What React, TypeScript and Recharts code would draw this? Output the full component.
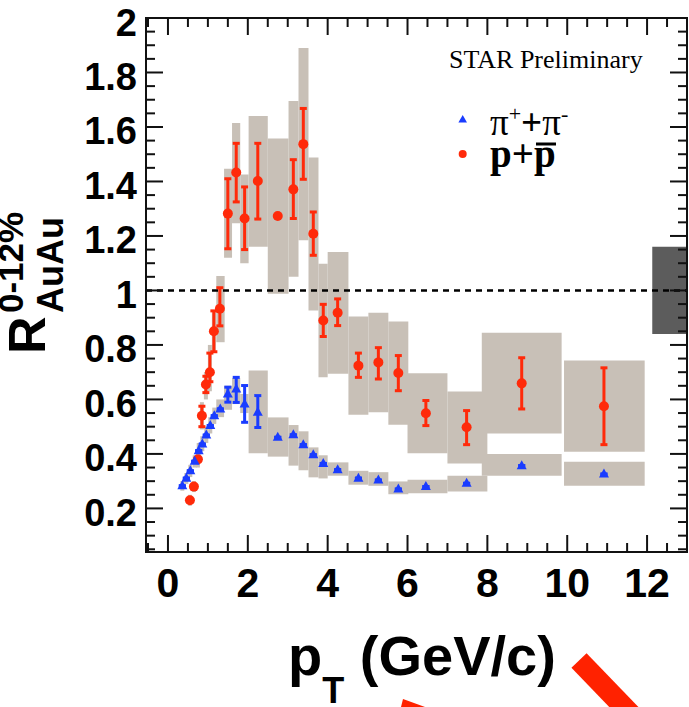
import React from 'react';
import { ComposedChart, XAxis, YAxis, Scatter, ErrorBar, ReferenceArea, ReferenceLine } from 'recharts';

// ---------------- data ----------------
const xTicks = [-0.5, 0, 0.5, 1, 1.5, 2, 2.5, 3, 3.5, 4, 4.5, 5, 5.5, 6, 6.5, 7, 7.5, 8, 8.5, 9, 9.5, 10, 10.5, 11, 11.5, 12, 12.5, 13];
const yTicks = [0.05, 0.1, 0.15, 0.2, 0.25, 0.3, 0.35, 0.4, 0.45, 0.5, 0.55, 0.6, 0.65, 0.7, 0.75, 0.8, 0.85, 0.9, 0.95, 1,
  1.05, 1.1, 1.15, 1.2, 1.25, 1.3, 1.35, 1.4, 1.45, 1.5, 1.55, 1.6, 1.65, 1.7, 1.75, 1.8, 1.85, 1.9, 1.95, 2];

// protons (p + pbar)
const pPt = [0.55, 0.65, 0.75, 0.85, 0.95, 1.05, 1.15, 1.3, 1.5, 1.71, 1.92, 2.25, 2.75, 3.14, 3.39, 3.64, 3.89, 4.25, 4.77, 5.27, 5.77, 6.46, 7.48, 8.86, 10.92];
const pR = [0.23, 0.28, 0.38, 0.54, 0.655, 0.70, 0.85, 0.933, 1.282, 1.433, 1.264, 1.402, 1.273, 1.371, 1.537, 1.208, 0.89, 0.918, 0.724, 0.736, 0.697, 0.549, 0.498, 0.659, 0.575];
const pErrLo = [0.23, 0.28, 0.38, 0.50, 0.625, 0.665, 0.775, 0.87, 1.153, 1.325, 1.15, 1.262, 1.273, 1.264, 1.408, 1.129, 0.831, 0.871, 0.681, 0.675, 0.632, 0.504, 0.434, 0.565, 0.434];
const pErrHi = [0.23, 0.28, 0.38, 0.575, 0.685, 0.77, 0.925, 1.01, 1.41, 1.54, 1.38, 1.54, 1.273, 1.48, 1.668, 1.288, 0.949, 0.969, 0.77, 0.79, 0.761, 0.596, 0.559, 0.753, 0.716];
const pBoxX1 = [0.50, 0.60, 0.70, 0.80, 0.90, 1.00, 1.10, 1.21, 1.405, 1.605, 1.81, 2.02, 2.50, 3.02, 3.27, 3.52, 3.77, 4.00, 4.52, 5.02, 5.52, 6.00, 7.00, 7.86, 9.92];
const pBoxX2 = [0.60, 0.70, 0.80, 0.90, 1.00, 1.10, 1.20, 1.42, 1.605, 1.81, 2.02, 2.50, 3.02, 3.27, 3.52, 3.77, 4.00, 4.52, 5.02, 5.52, 6.02, 7.00, 8.00, 9.86, 11.94];
const pBoxLo = [0.21, 0.26, 0.35, 0.49, 0.60, 0.63, 0.78, 0.81, 1.12, 1.247, 1.10, 1.16, 0.988, 1.05, 1.184, 0.926, 0.681, 0.694, 0.544, 0.553, 0.507, 0.402, 0.365, 0.475, 0.408];
const pBoxHi = [0.25, 0.30, 0.41, 0.59, 0.70, 0.80, 0.92, 1.053, 1.447, 1.615, 1.426, 1.64, 1.558, 1.695, 1.89, 1.488, 1.098, 1.141, 0.904, 0.918, 0.886, 0.696, 0.629, 0.845, 0.743];

// pions (pi+ + pi-)
const piPt = [0.36, 0.46, 0.56, 0.67, 0.77, 0.86, 0.96, 1.06, 1.16, 1.31, 1.5, 1.71, 1.92, 2.25, 2.75, 3.14, 3.39, 3.64, 3.89, 4.25, 4.77, 5.27, 5.77, 6.46, 7.48, 8.86, 10.92];
const piR = [0.283, 0.311, 0.338, 0.373, 0.412, 0.436, 0.469, 0.504, 0.54, 0.565, 0.62, 0.638, 0.583, 0.553, 0.461, 0.47, 0.434, 0.397, 0.365, 0.342, 0.311, 0.304, 0.271, 0.28, 0.292, 0.357, 0.326];
const piErrLo = [0.283, 0.311, 0.338, 0.373, 0.412, 0.436, 0.469, 0.504, 0.54, 0.565, 0.59, 0.589, 0.516, 0.497, 0.461, 0.47, 0.434, 0.397, 0.365, 0.342, 0.311, 0.304, 0.271, 0.28, 0.292, 0.357, 0.326];
const piErrHi = [0.283, 0.311, 0.338, 0.373, 0.412, 0.436, 0.469, 0.504, 0.54, 0.565, 0.645, 0.681, 0.651, 0.614, 0.461, 0.47, 0.434, 0.397, 0.365, 0.342, 0.311, 0.304, 0.271, 0.28, 0.292, 0.357, 0.326];
const piBoxX1 = [0.31, 0.41, 0.51, 0.62, 0.72, 0.81, 0.91, 1.01, 1.11, 1.21, 1.405, 1.605, 1.81, 2.02, 2.50, 3.02, 3.27, 3.52, 3.77, 4.00, 4.52, 5.02, 5.52, 6.00, 7.00, 7.86, 9.92];
const piBoxX2 = [0.41, 0.51, 0.61, 0.72, 0.82, 0.91, 1.01, 1.11, 1.21, 1.405, 1.605, 1.81, 2.02, 2.50, 3.02, 3.27, 3.52, 3.77, 4.00, 4.52, 5.02, 5.52, 6.02, 7.00, 8.00, 9.86, 11.94];
const piBoxLo = [0.265, 0.29, 0.315, 0.35, 0.385, 0.41, 0.44, 0.475, 0.51, 0.535, 0.562, 0.583, 0.55, 0.402, 0.39, 0.357, 0.34, 0.314, 0.31, 0.32, 0.287, 0.283, 0.252, 0.256, 0.262, 0.32, 0.283];
const piBoxHi = [0.30, 0.33, 0.36, 0.395, 0.44, 0.465, 0.50, 0.535, 0.57, 0.60, 0.65, 0.679, 0.62, 0.706, 0.534, 0.506, 0.483, 0.424, 0.395, 0.369, 0.338, 0.333, 0.299, 0.305, 0.32, 0.40, 0.371];

// normalisation uncertainty box
const normBox = { x1: 12.13, x2: 13, y1: 0.84, y2: 1.16 };
const xDomain = [-0.55, 13];
const yDomain = [0.04, 2];

// ---------------- layout / style ----------------
const W = 689;
const H = 707;
const MARGIN = { top: 18, right: 2, bottom: 95, left: 66 };
const X_AXIS_H = 60;
const Y_AXIS_W = 80;
const PLOT_W = W - MARGIN.left - MARGIN.right - Y_AXIS_W; // frame width
const PLOT_H = H - MARGIN.top - MARGIN.bottom - X_AXIS_H; // frame height

const SANS = "'Liberation Sans', Arial, Helvetica, sans-serif";
const SERIF = "'Liberation Serif', 'Times New Roman', serif";
const RED = '#ff2a0a';
const BLUE = '#1a3cff';
const GREY = '#c8c0b7';
const TICK = '#111';

const protonData = pPt.map((x, i) => ({ x, y: pR[i], err: [pR[i] - pErrLo[i], pErrHi[i] - pR[i]] }));
const pionData = piPt.map((x, i) => ({ x, y: piR[i], err: [piR[i] - piErrLo[i], piErrHi[i] - piR[i]] }));
const boxes = [
  ...pBoxX1.map((x1, i) => ({ x1, x2: pBoxX2[i], y1: pBoxLo[i], y2: pBoxHi[i] })),
  ...piBoxX1.map((x1, i) => ({ x1, x2: piBoxX2[i], y1: piBoxLo[i], y2: piBoxHi[i] })),
];

const isMajorX = (v: number) => Math.abs(v / 2 - Math.round(v / 2)) < 1e-6;
const isMajorY = (v: number) => Math.abs(v * 5 - Math.round(v * 5)) < 1e-6;
const fmtY = (v: number) => String(Number(v.toFixed(1)));

// bottom axis tick: inward tick on the bottom edge, its mirror on the top edge, and the label
const BottomTick = (props: any) => {
  const { x, y, payload } = props;
  const v = payload.value;
  const len = isMajorX(v) ? 17 : 9;
  const top = y - PLOT_H;
  return (
    <g>
      <line x1={x} x2={x} y1={y} y2={y - len} stroke={TICK} strokeWidth={2} />
      <line x1={x} x2={x} y1={top} y2={top + len} stroke={TICK} strokeWidth={2} />
      {isMajorX(v) ? (
        <text x={x} y={y + 45} textAnchor="middle" fontFamily={SANS} fontWeight="bold" fontSize={41} fill="#000">{v}</text>
      ) : null}
    </g>
  );
};
// left axis tick: inward tick on the left edge, its mirror on the right edge, and the label
const LeftTick = (props: any) => {
  const { x, y, payload } = props;
  const v = payload.value;
  const len = isMajorY(v) ? 17 : 9;
  const right = x + PLOT_W;
  return (
    <g>
      <line x1={x} x2={x + len} y1={y} y2={y} stroke={TICK} strokeWidth={2} />
      <line x1={right} x2={right - len} y1={y} y2={y} stroke={TICK} strokeWidth={2} />
      {isMajorY(v) ? (
        <text x={x - 9} y={y + 17.5} textAnchor="end" fontFamily={SANS} fontWeight="bold" fontSize={38} fill="#000">{fmtY(v)}</text>
      ) : null}
    </g>
  );
};

const Tri = (p: any) => (
  <polygon points={`${p.cx},${p.cy - 5.5} ${p.cx + 5},${p.cy + 3.5} ${p.cx - 5},${p.cy + 3.5}`} fill={BLUE} />
);
const Dot = (p: any) => <circle cx={p.cx} cy={p.cy} r={5} fill={RED} />;

const frame = { stroke: '#111', strokeWidth: 2 };

export default function App() {
  return (
    <div style={{ position: 'absolute', left: 0, top: 0, width: W, height: H, background: '#fff' }}>
      {/* titles, legend and annotation, placed underneath the (transparent) chart surface */}
      <svg width={W} height={H} style={{ position: 'absolute', left: 0, top: 0, pointerEvents: 'none' }}>
        <text transform="translate(45,354) rotate(-90)" fontFamily={SANS} fontWeight="bold" fontSize={52} fill="#000">R</text>
        <text transform="translate(23,313) rotate(-90)" fontFamily={SANS} fontWeight="bold" fontSize={35} fill="#000">0-12%</text>
        <text transform="translate(63,313) rotate(-90)" fontFamily={SANS} fontWeight="bold" fontSize={36} fill="#000">AuAu</text>
        <text x={288} y={675} fontFamily={SANS} fontWeight="bold" fontSize={56} fill="#000">
          p<tspan fontSize={36} dy={28}>T</tspan><tspan fontSize={56} dy={-28}> (GeV/c)</tspan>
        </text>
        <text x={449} y={68} fontFamily={SERIF} fontSize={26} fill="#000">STAR Preliminary</text>
        <polygon points="462.7,115 467,122.5 458.4,122.5" fill={BLUE} />
        <text x={490} y={135} fontFamily={SERIF} fontSize={37} fill="#000">
          π<tspan dy={-14} fontSize={22}>+</tspan><tspan dy={14} fontSize={37} fontWeight="bold">+</tspan><tspan>π</tspan><tspan dy={-14} fontSize={22}>-</tspan>
        </text>
        <circle cx={462.7} cy={154} r={4} fill={RED} />
        <text x={490} y={167} fontFamily={SERIF} fontWeight="bold" fontSize={39} fill="#000">p+p</text>
        <line x1={536} x2={556} y1={144} y2={144} stroke="#000" strokeWidth={3} />
        <line x1={579} y1={660.5} x2={700} y2={786} stroke="#ff2200" strokeWidth={21} />
        <polygon points="401,707 403,699 425,707" fill="#ff2200" />
      </svg>
      <ComposedChart width={W} height={H} margin={MARGIN}>
        <XAxis type="number" dataKey="x" domain={xDomain} allowDataOverflow ticks={xTicks} interval={0}
          tickSize={0} tickMargin={0} tickLine={false} tick={BottomTick} axisLine={frame} height={X_AXIS_H} />
        <YAxis type="number" dataKey="y" domain={yDomain} allowDataOverflow ticks={yTicks} interval={0}
          tickSize={0} tickMargin={0} tickLine={false} tick={LeftTick} axisLine={frame} width={Y_AXIS_W} />
        {boxes.map((b, i) => (
          <ReferenceArea key={'b' + i} x1={b.x1} x2={b.x2} y1={b.y1} y2={b.y2} fill={GREY} fillOpacity={1} stroke="none" ifOverflow="visible" />
        ))}
        <ReferenceArea x1={normBox.x1} x2={normBox.x2} y1={normBox.y1} y2={normBox.y2} fill="#5c5c5c" fillOpacity={1} stroke="none" ifOverflow="visible" />
        <ReferenceArea x1={xDomain[0]} x2={xDomain[1]} y1={yDomain[0]} y2={yDomain[1]} fill="none"
          stroke="#111" strokeWidth={2} ifOverflow="visible" />
        <ReferenceLine y={1} stroke="#000" strokeWidth={2.5} strokeDasharray="6 5" />
        <Scatter data={protonData} shape={Dot} isAnimationActive={false}>
          <ErrorBar dataKey="err" direction="y" width={3.5} strokeWidth={3} stroke={RED} isAnimationActive={false} />
        </Scatter>
        <Scatter data={pionData} shape={Tri} isAnimationActive={false}>
          <ErrorBar dataKey="err" direction="y" width={3.5} strokeWidth={3} stroke={BLUE} isAnimationActive={false} />
        </Scatter>
      </ComposedChart>
    </div>
  );
}
